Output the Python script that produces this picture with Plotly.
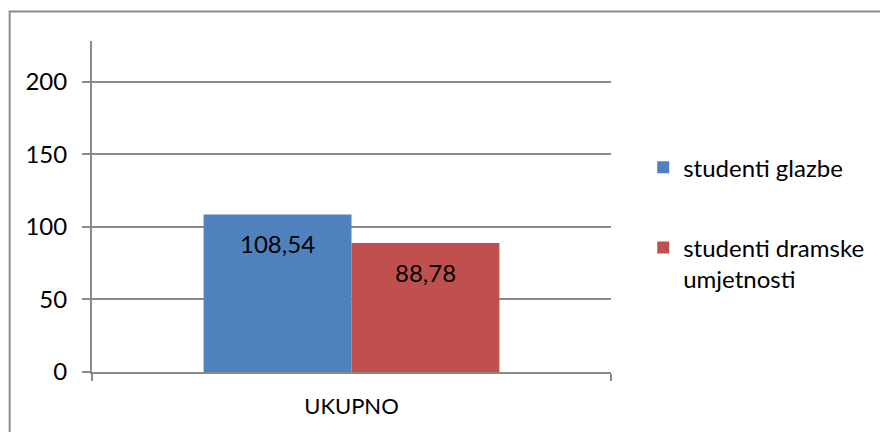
import plotly.graph_objects as go

# Data
categories = ["UKUPNO"]
series_names = ["studenti glazbe", "studenti dramske<br>umjetnosti"]
series_values = [[108.54], [88.78]]
value_labels = ["108,54", "88,78"]
series_colors = ["#4F81BD", "#C0504D"]

y_ticks = [0, 50, 100, 150, 200]

FONT = "Lato"
FS = 24
GRID = "#8a8a8a"

W, H = 880, 432
ML, MR, MT, MB = 92, 268, 41, 60
BARGAP = 0.43

fig = go.Figure()
for i, (name, vals, col) in enumerate(zip(series_names, series_values, series_colors)):
    fig.add_trace(go.Bar(
        x=categories, y=vals, name=name,
        marker=dict(color=col, line=dict(width=0)),
        legendgroup=f"g{i}",
        hoverinfo="skip",
    ))

# value labels just inside the top of each bar
n = len(series_values)
bw = (1 - BARGAP) / n
for i, (vals, lab) in enumerate(zip(series_values, value_labels)):
    xoff = -((1 - BARGAP) / 2) + bw * (i + 0.5)
    for v in vals:
        fig.add_annotation(
            x=xoff, y=v, xref="x", yref="y",
            text=lab, showarrow=False,
            yanchor="middle", yshift=-29,
            font=dict(family=FONT, size=FS, color="#000000"),
        )

# chart-area frame
fig.add_shape(
    type="rect", xref="paper", yref="paper",
    x0=(9.5 - ML) / (W - ML - MR), x1=2.0,
    y0=-1.0, y1=(H - MB - 11.5) / (H - MT - MB),
    line=dict(color="#8c8c8c", width=2), fillcolor="rgba(0,0,0,0)",
    layer="below",
)

fig.update_layout(
    width=W, height=H,
    margin=dict(l=ML, r=MR, t=MT, b=MB, pad=0),
    paper_bgcolor="white", plot_bgcolor="white",
    barmode="group", bargap=BARGAP, bargroupgap=0,
    font=dict(family=FONT, size=FS, color="#000000"),
    showlegend=True,
    legend=dict(
        x=1.06, xanchor="left", y=0.685, yanchor="top",
        traceorder="grouped", tracegroupgap=46,
        valign="top", itemsizing="constant",
        font=dict(family=FONT, size=FS, color="#000000"),
        bgcolor="rgba(0,0,0,0)",
    ),
    xaxis=dict(
        type="category", range=[-0.5, 0.5],
        showline=True, linecolor=GRID, linewidth=2,
        ticks="outside", tickson="boundaries", ticklen=7,
        tickcolor=GRID, tickwidth=2,
        showgrid=False, zeroline=False, ticklabelstandoff=14,
        tickfont=dict(family=FONT, size=22, color="#000000"),
    ),
    yaxis=dict(
        range=[0, 228], tickvals=y_ticks,
        showline=True, linecolor=GRID, linewidth=2,
        ticks="outside", ticklen=8, tickcolor=GRID, tickwidth=2,
        showgrid=True, gridcolor=GRID, gridwidth=2,
        zeroline=False, ticklabelstandoff=10,
        tickfont=dict(family=FONT, size=FS, color="#000000"),
    ),
)

fig.write_html("out.html")
